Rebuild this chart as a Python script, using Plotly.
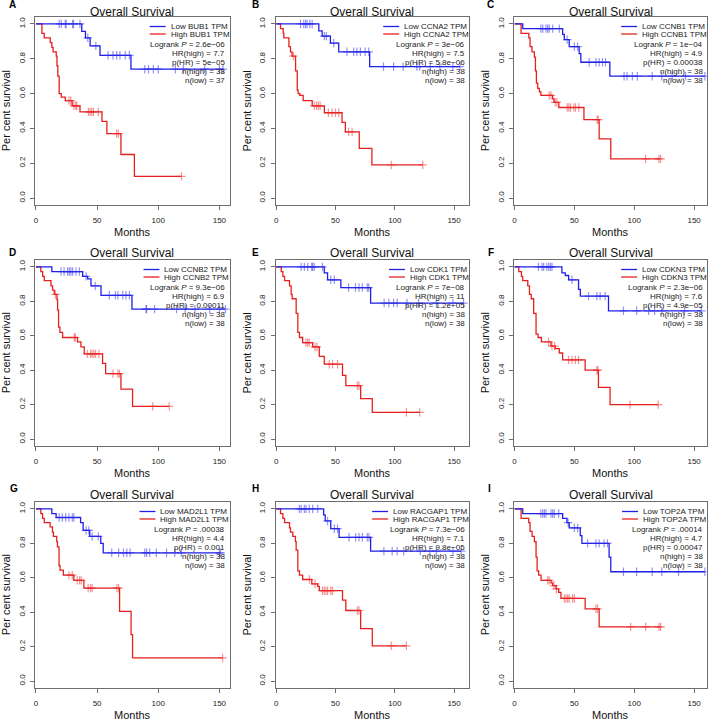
import plotly.graph_objects as go

# ---------------- data ----------------
panel_letters = ["A", "B", "C", "D", "E", "F", "G", "H", "I"]
genes = ["BUB1", "CCNA2", "CCNB1", "CCNB2", "CDK1", "CDKN3", "MAD2L1", "RACGAP1", "TOP2A"]
logrank_p = ["2.6e−06", "3e−06", "1e−04", "9.3e−06", "7e−08", "2.3e−06", ".00038", "7.3e−06", ".00014"]
hr_high = ["7.7", "7.5", "4.9", "6.9", "11", "7.6", "4.4", "7.1", "4.7"]
p_hr = ["5e−05", "5.8e−06", "0.00038", "0.00011", "1.2e−05", "4.9e−05", "0.001", "9.8e−05", "0.00047"]
n_high = [38, 38, 38, 38, 38, 38, 38, 38, 38]
n_low = [37, 38, 38, 38, 38, 38, 38, 38, 38]
x_ticks = [0, 50, 100, 150]
y_ticks = [0.0, 0.2, 0.4, 0.6, 0.8, 1.0]

# event times (months), survival after each event, censor times
BUB1_low_t = [37.5, 40.5, 44.3, 52.4, 77.7]
BUB1_low_s = [0.957, 0.92, 0.874, 0.82, 0.74]
BUB1_low_c = [19, 20.7, 24, 24.7, 30, 30.7, 36, 42.4, 49, 59, 63, 66, 68.7, 73, 76.4, 89, 92, 96, 100, 114, 120.5, 138, 150, 153]
BUB1_high_t = [4.9, 6.8, 11.7, 13, 14, 16.6, 17.2, 17.9, 19, 20.7, 24, 29.6, 36, 54, 58, 69.5, 80.5]
BUB1_high_s = [0.946, 0.92, 0.893, 0.865, 0.84, 0.815, 0.76, 0.70, 0.60, 0.58, 0.56, 0.53, 0.495, 0.44, 0.37, 0.25, 0.125]
BUB1_high_c = [27, 28.5, 31, 32.6, 33.4, 42.9, 44.3, 45.6, 47, 51, 66, 67.4, 119]

CCNA2_low_t = [35.9, 38.7, 45.7, 52.7, 78.8]
CCNA2_low_s = [0.96, 0.93, 0.89, 0.84, 0.755]
CCNA2_low_c = [20.5, 23.2, 24.7, 26, 28.3, 30.3, 40.6, 42.3, 48.5, 59.7, 65.3, 68, 71, 75, 78, 90.5, 99, 107, 118.6, 121, 130, 138, 149, 155]
CCNA2_high_t = [3.6, 5.9, 6.4, 10.7, 12, 13.3, 16.3, 17.7, 18.5, 19.9, 22.7, 30.3, 40.6, 55.5, 58.3, 70, 80.7]
CCNA2_high_s = [0.973, 0.946, 0.92, 0.87, 0.84, 0.815, 0.73, 0.62, 0.60, 0.59, 0.56, 0.53, 0.49, 0.435, 0.38, 0.285, 0.19]
CCNA2_high_c = [14.5, 32, 34, 35.5, 37, 44, 47, 50, 52.7, 61, 64, 97, 123.6]

CCNB1_low_t = [6.9, 40.2, 41.6, 45.7, 54, 55.4, 79.6]
CCNB1_low_s = [0.973, 0.94, 0.91, 0.87, 0.83, 0.78, 0.70]
CCNB1_low_c = [22, 23.6, 26.3, 27.7, 29, 31.9, 37.4, 44, 50, 52.7, 62.4, 68, 70.7, 73.5, 76, 91.5, 94, 98.4, 102.6, 115, 123, 131.7, 142.8, 159]
CCNB1_high_t = [5.5, 12, 13, 14.6, 16.6, 17.5, 18.3, 19.4, 20.8, 22, 31.9, 33, 37, 58, 70.7, 80.4]
CCNB1_high_s = [0.946, 0.92, 0.87, 0.84, 0.81, 0.73, 0.66, 0.63, 0.61, 0.59, 0.57, 0.55, 0.52, 0.45, 0.34, 0.225]
CCNB1_high_c = [29, 30.5, 34, 35.4, 44, 45.4, 46.8, 49.6, 51, 53.7, 69, 70, 109.5, 120.6, 122]

CCNB2_low_t = [13, 38.2, 42.3, 45, 53.2, 78.5]
CCNB2_low_s = [0.973, 0.945, 0.93, 0.89, 0.835, 0.755]
CCNB2_low_c = [20.5, 23, 25.9, 27.3, 28.6, 30, 32.7, 35.5, 41, 48.5, 60, 65, 67, 71, 73.6, 76.4, 90, 90.5, 97, 115, 122, 130, 142, 150, 155]
CCNB2_high_t = [4, 5.5, 6.8, 12.3, 13.6, 15, 17.2, 17.7, 18.5, 19.6, 21.8, 34, 36.8, 39.5, 54.5, 57, 69.5, 79]
CCNB2_high_s = [0.973, 0.945, 0.92, 0.89, 0.865, 0.84, 0.81, 0.75, 0.65, 0.62, 0.59, 0.565, 0.535, 0.495, 0.44, 0.38, 0.29, 0.19]
CCNB2_high_c = [16, 31.4, 32.2, 42, 44.7, 46, 47.4, 48.8, 51.5, 63, 67, 68.2, 95.5, 109]

CDK1_low_t = [40.5, 43.3, 54.5, 79.6]
CDK1_low_s = [0.965, 0.925, 0.88, 0.79]
CDK1_low_c = [21, 23.7, 26.5, 29.9, 30.7, 32, 39, 46, 49, 61, 66.8, 69.8, 72.6, 76.8, 78, 91, 95, 99, 102, 110.3, 120, 135, 149, 158]
CDK1_high_t = [4.2, 5.6, 7, 11.2, 12.6, 13.4, 16.8, 18.2, 19.6, 22.3, 30.7, 36.3, 40.5, 55.9, 58.7, 71.2, 81]
CDK1_high_s = [0.973, 0.945, 0.92, 0.89, 0.84, 0.815, 0.73, 0.62, 0.59, 0.56, 0.535, 0.48, 0.435, 0.37, 0.31, 0.235, 0.155]
CDK1_high_c = [25.1, 26.5, 27.9, 32.7, 34.4, 44.7, 47.5, 51.7, 68.4, 69.8, 109.8, 121]

CDKN3_low_t = [39.6, 42.4, 45.2, 53.5, 55, 78.5]
CDKN3_low_s = [0.965, 0.95, 0.925, 0.87, 0.83, 0.745]
CDKN3_low_c = [20, 23, 24.4, 27, 28.6, 30, 31.3, 48, 61.8, 68.8, 71.5, 75.7, 91, 102, 112, 117, 123, 142, 156]
CDKN3_high_t = [3.6, 5.8, 6.9, 11.1, 12.5, 14, 16, 18, 19.7, 22.5, 30.5, 34, 37.4, 40.2, 59, 70.1, 79.8]
CDKN3_high_s = [0.973, 0.945, 0.92, 0.89, 0.84, 0.815, 0.73, 0.61, 0.59, 0.565, 0.54, 0.525, 0.50, 0.46, 0.40, 0.30, 0.20]
CDKN3_high_c = [28.5, 31.3, 33.5, 45.2, 48, 50.8, 53.5, 68.8, 69.6, 96.5, 120]

MAD2L1_low_t = [13, 16.5, 36.5, 38.6, 44, 53, 55]
MAD2L1_low_s = [0.973, 0.95, 0.92, 0.875, 0.84, 0.80, 0.745]
MAD2L1_low_c = [19, 21.6, 24.3, 27, 29.7, 31, 41, 43.2, 46, 51, 62, 67.6, 71.6, 74.3, 77, 89, 90.5, 93, 98.4, 106.8, 113.5, 118.9, 150, 151]
MAD2L1_high_t = [4, 5.4, 6.8, 11.6, 13.5, 14.3, 17, 17.6, 18.9, 19.7, 22.4, 31, 39.2, 68.4, 77.8, 79]
MAD2L1_high_s = [0.973, 0.945, 0.92, 0.895, 0.865, 0.84, 0.81, 0.78, 0.67, 0.645, 0.615, 0.585, 0.54, 0.405, 0.27, 0.135]
MAD2L1_high_c = [27, 29.7, 33.8, 35.7, 37, 42.7, 44.6, 45.9, 66.2, 67.6, 152.7]

RACGAP1_low_t = [40, 41.3, 46, 53, 79.6]
RACGAP1_low_s = [0.965, 0.93, 0.885, 0.835, 0.755]
RACGAP1_low_c = [19.5, 21, 23.7, 25.1, 27.9, 30.7, 35, 43.3, 49, 51.7, 61.4, 67, 69.8, 72.6, 76.8, 78.2, 90.8, 97.8, 102, 107.5, 121.5, 129.6, 135, 149, 156]
RACGAP1_high_t = [3.6, 5.6, 7, 11.2, 12, 14, 16.2, 16.8, 18.2, 19.6, 22.3, 30, 35, 36.3, 55.9, 58.7, 71.2, 81]
RACGAP1_high_s = [0.973, 0.945, 0.92, 0.89, 0.865, 0.84, 0.81, 0.76, 0.64, 0.615, 0.59, 0.565, 0.55, 0.525, 0.47, 0.41, 0.305, 0.205]
RACGAP1_high_c = [28, 32.7, 39, 40.5, 41.9, 43.3, 46, 47.5, 68.4, 69.8, 97, 109.8]

TOP2A_low_t = [6.9, 40.2, 43.8, 45.7, 54.9, 56.3, 79, 80.4]
TOP2A_low_s = [0.973, 0.945, 0.92, 0.89, 0.845, 0.80, 0.72, 0.635]
TOP2A_low_c = [22, 23.6, 25, 26.3, 30.5, 31.9, 33.2, 36.9, 44.8, 50, 52.7, 61, 68, 70.7, 74.8, 77.6, 91, 102, 115, 123, 137, 159]
TOP2A_high_t = [5.5, 11.9, 13, 14.7, 16.6, 18, 18.9, 20.2, 22.2, 30.5, 31.9, 34.7, 36.9, 38.8, 59, 70.7]
TOP2A_high_s = [0.945, 0.92, 0.87, 0.84, 0.81, 0.72, 0.64, 0.615, 0.585, 0.57, 0.555, 0.535, 0.515, 0.48, 0.42, 0.315]
TOP2A_high_c = [27.7, 29, 33, 35, 41.6, 43, 44.4, 45.7, 48.5, 50, 68, 69.3, 97, 109.5, 120.6, 122]

curves = {
    "BUB1": (BUB1_low_t, BUB1_low_s, BUB1_low_c, BUB1_high_t, BUB1_high_s, BUB1_high_c),
    "CCNA2": (CCNA2_low_t, CCNA2_low_s, CCNA2_low_c, CCNA2_high_t, CCNA2_high_s, CCNA2_high_c),
    "CCNB1": (CCNB1_low_t, CCNB1_low_s, CCNB1_low_c, CCNB1_high_t, CCNB1_high_s, CCNB1_high_c),
    "CCNB2": (CCNB2_low_t, CCNB2_low_s, CCNB2_low_c, CCNB2_high_t, CCNB2_high_s, CCNB2_high_c),
    "CDK1": (CDK1_low_t, CDK1_low_s, CDK1_low_c, CDK1_high_t, CDK1_high_s, CDK1_high_c),
    "CDKN3": (CDKN3_low_t, CDKN3_low_s, CDKN3_low_c, CDKN3_high_t, CDKN3_high_s, CDKN3_high_c),
    "MAD2L1": (MAD2L1_low_t, MAD2L1_low_s, MAD2L1_low_c, MAD2L1_high_t, MAD2L1_high_s, MAD2L1_high_c),
    "RACGAP1": (RACGAP1_low_t, RACGAP1_low_s, RACGAP1_low_c, RACGAP1_high_t, RACGAP1_high_s, RACGAP1_high_c),
    "TOP2A": (TOP2A_low_t, TOP2A_low_s, TOP2A_low_c, TOP2A_high_t, TOP2A_high_s, TOP2A_high_c),
}

# ---------------- layout / style ----------------
W, H = 709, 720
FONT = "Liberation Sans, Arial, Helvetica, sans-serif"
BLUE = "#1f1fe6"
RED = "#e61f1f"
BLUE_C = "rgba(40,40,235,0.5)"
RED_C = "rgba(235,40,40,0.5)"
BOX = "#6e6e6e"
TXT = "#222222"

col_px = [(33.3, 228.3), (274.3, 468.7), (513.7, 707.3)]
col_xrange = [(-0.6, 158.4), (-0.6, 162.9), (-0.2, 161.0)]
row_px = [(17, 205), (260, 446), (502, 688)]
y_range = (-0.04, 1.04)
title_y = [12, 253, 495]
months_y = [232, 473, 715]
letter_pos = [(5, 5), (249, 5), (484, 5), (5, 253), (249, 253), (485, 253), (6, 488), (249, 488), (485, 488)]

ARIAL_W = {' ': 278, '.': 278, '=': 584, '(': 333, ')': 333, '−': 584, '-': 333}
for ch in '0123456789':
    ARIAL_W[ch] = 556
for ch, w in zip('ABCDEFGHIJKLMNOPQRSTUVWXYZ',
                 [667, 667, 722, 722, 667, 611, 778, 722, 278, 500, 667, 556, 833, 722, 778, 667, 778, 722, 667, 611, 722, 667, 944, 667, 667, 611]):
    ARIAL_W[ch] = w
for ch, w in zip('abcdefghijklmnopqrstuvwxyz',
                 [556, 556, 500, 556, 556, 278, 556, 556, 222, 222, 500, 222, 833, 556, 556, 556, 556, 333, 500, 278, 556, 500, 722, 500, 500, 500]):
    ARIAL_W[ch] = w


def text_w(s, size):
    return sum(ARIAL_W.get(c, 556) for c in s) * size / 1000.0


def px(x):
    return x / W


def py(y):
    return 1 - y / H


def surv_at(t, s, c):
    v = 1.0
    for tt, ss in zip(t, s):
        if tt <= c:
            v = ss
    return v


fig = go.Figure()
annotations = []
shapes = []
layout_axes = {}

for i, g in enumerate(genes):
    r, cidx = divmod(i, 3)
    sfx = "" if i == 0 else str(i + 1)
    xa, ya = "x" + sfx, "y" + sfx
    lt, ls, lc, ht, hs, hc = curves[g]
    for t, s, c, col, ccol in [(ht, hs, hc, RED, RED_C), (lt, ls, lc, BLUE, BLUE_C)]:
        end = max(c + [t[-1]])
        fig.add_trace(go.Scatter(x=[0] + t + [end], y=[1.0] + s + [s[-1]], mode="lines",
                                 line=dict(color=col, width=1.3, shape="hv"),
                                 xaxis=xa, yaxis=ya, showlegend=False, hoverinfo="skip"))
        fig.add_trace(go.Scatter(x=c, y=[surv_at(t, s, cc) for cc in c], mode="markers",
                                 marker=dict(symbol="cross-thin", size=6, line=dict(color=ccol, width=1.2)),
                                 xaxis=xa, yaxis=ya, showlegend=False, hoverinfo="skip"))
    x0p, x1p = col_px[cidx]
    y0p, y1p = row_px[r]
    common = dict(showline=True, linecolor=BOX, linewidth=1, mirror=True, ticks="outside",
                  ticklen=4, tickcolor=BOX, tickwidth=1, showgrid=False, zeroline=False,
                  tickfont=dict(family=FONT, size=8, color=TXT))
    layout_axes["xaxis" + sfx] = dict(common, domain=[px(x0p), px(x1p)], range=list(col_xrange[cidx]),
                                      tickvals=x_ticks, anchor=ya, ticklabelstandoff=3)
    layout_axes["yaxis" + sfx] = dict(common, domain=[py(y1p), py(y0p)], range=list(y_range),
                                      tickvals=y_ticks, tickformat=".1f", tickangle=-90, anchor=xa,
                                      ticklabelstandoff=2)
    cx = (x0p + x1p) / 2
    annotations.append(dict(text="Overall Survival", x=px(cx), y=py(title_y[r]), xref="paper", yref="paper",
                            xanchor="center", yanchor="middle", showarrow=False,
                            font=dict(family=FONT, size=12, color="#111")))
    annotations.append(dict(text="Months", x=px(cx), y=py(months_y[r]), xref="paper", yref="paper",
                            xanchor="center", yanchor="middle", showarrow=False,
                            font=dict(family=FONT, size=11, color="#111")))
    annotations.append(dict(text="Per cent survival", x=px(x0p - 29), y=py((y0p + y1p) / 2), xref="paper",
                            yref="paper", xanchor="center", yanchor="middle", showarrow=False, textangle=-90,
                            font=dict(family=FONT, size=11, color="#111")))
    lx, ly = letter_pos[i]
    annotations.append(dict(text="<b>%s</b>" % panel_letters[i], x=px(lx), y=py(ly), xref="paper", yref="paper",
                            xanchor="left", yanchor="middle", showarrow=False,
                            font=dict(family=FONT, size=10, color="#000")))
    # legend block
    right = x1p - 2.5
    low_lbl = "Low %s TPM" % g
    high_lbl = "High %s TPM" % g
    tl = right - text_w(high_lbl, 8)
    for k, (lbl, col) in enumerate([(low_lbl, BLUE), (high_lbl, RED)]):
        yy = y0p + 9.5 + 7.5 * k
        shapes.append(dict(type="line", xref="paper", yref="paper", x0=px(tl - 19), x1=px(tl - 3),
                           y0=py(yy), y1=py(yy), line=dict(color=col, width=1.3)))
        annotations.append(dict(text=lbl, x=px(tl), y=py(yy), xref="paper", yref="paper",
                                xanchor="left", yanchor="middle", showarrow=False,
                                font=dict(family=FONT, size=8, color=TXT)))
    stats = ["Logrank <i>P</i> = %s" % logrank_p[i], "HR(high) = %s" % hr_high[i], "p(HR) = %s" % p_hr[i],
             "n(high) = %d" % n_high[i], "n(low) = %d" % n_low[i]]
    for k, st in enumerate(stats):
        yy = y0p + 27.5 + 9.0 * k
        annotations.append(dict(text=st, x=px(right), y=py(yy), xref="paper", yref="paper",
                                xanchor="right", yanchor="middle", showarrow=False,
                                font=dict(family=FONT, size=8, color=TXT)))

fig.update_layout(width=W, height=H, margin=dict(l=0, r=0, t=0, b=0), paper_bgcolor="white",
                  plot_bgcolor="white", annotations=annotations, shapes=shapes, showlegend=False,
                  font=dict(family=FONT), **layout_axes)
fig.write_html("out.html", config={"displayModeBar": False},
               post_script="document.body.style.margin='0';document.body.style.overflow='hidden';")
